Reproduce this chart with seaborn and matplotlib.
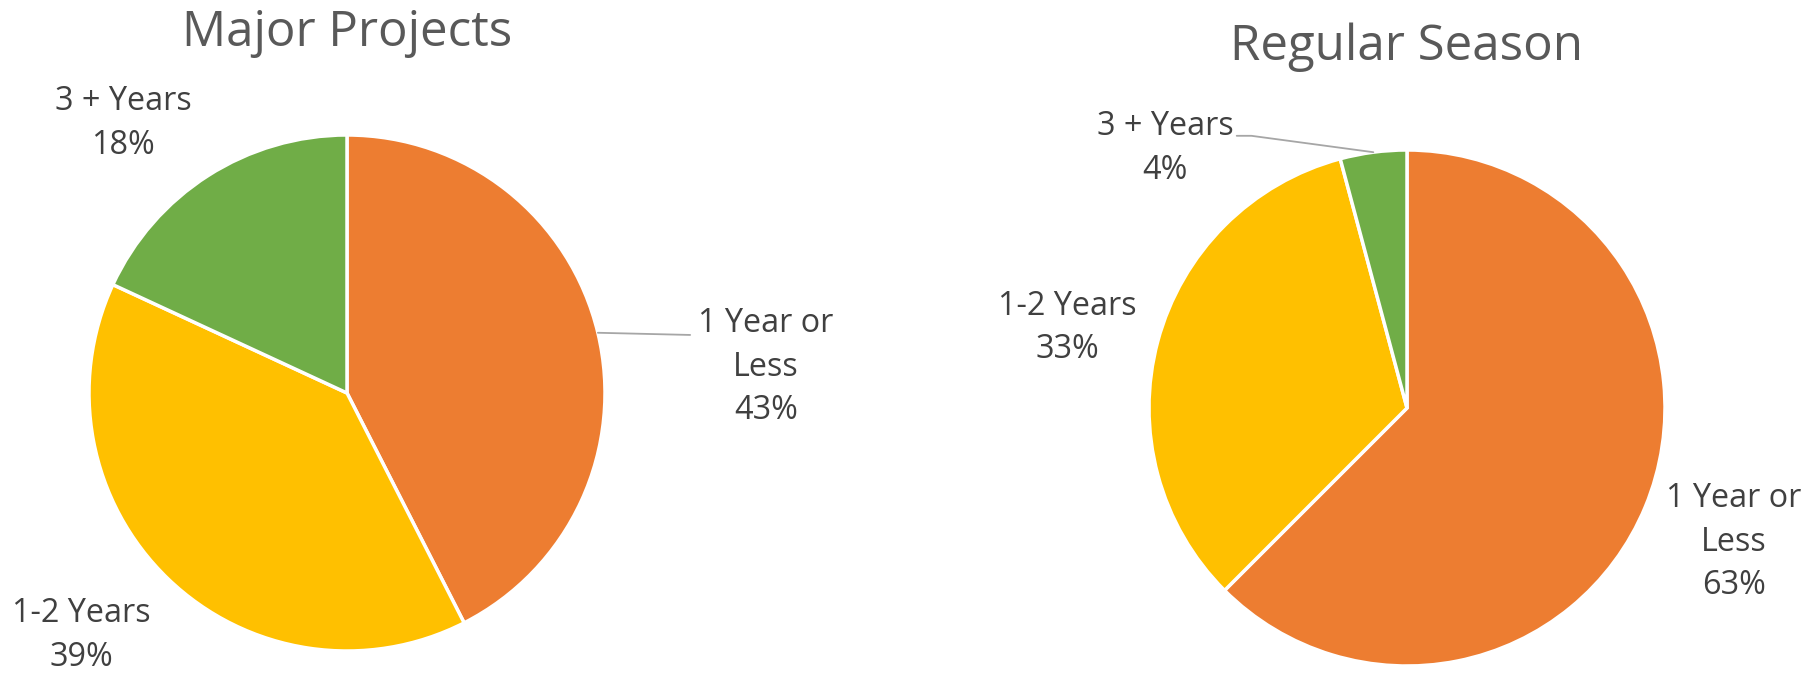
import numpy as np
import seaborn as sns
import matplotlib.pyplot as plt

# data (wedge sizes, labels as printed)
labels = ['1 Year or\nLess', '1-2 Years', '3 + Years']
major = [42.5, 39.4, 18.1]
major_pct = [43, 39, 18]
regular = [15, 8, 1]
regular_pct = [63, 33, 4]
titles = ['Major Projects', 'Regular Season']

sns.set_theme(style='white')
plt.rcParams['font.family'] = ['Open Sans', 'DejaVu Sans']
colors = sns.color_palette(['#ED7D31', '#FFC000', '#70AD47'])

W, H = 1809, 673
fig = plt.figure(figsize=(W / 100, H / 100), dpi=100)


def make_ax(cx, cy, r):
    return fig.add_axes([(cx - r) / W, (H - cy - r) / H, 2 * r / W, 2 * r / H])


# label centres (in pie-radius units) per wedge, Excel style
label_pos = [
    [(1.624, 0.10), (-1.03, -0.94), (-0.868, 1.045)],
    [(1.267, -0.52), (-1.318, 0.31), (-0.938, 1.005)],
]
leader = [0, 2]  # which wedge gets a leader line

axes = [make_ax(347, 393, 258), make_ax(1407, 408, 258)]
title_y = [33, 47]

for i, (ax, vals, pcts) in enumerate(zip(axes, [major, regular], [major_pct, regular_pct])):
    wedges, _ = ax.pie(vals, colors=colors, startangle=90, counterclock=False,
                       radius=1, wedgeprops=dict(edgecolor='white', linewidth=2.5))
    ax.set_xlim(-1, 1)
    ax.set_ylim(-1, 1)
    ax.axis('off')
    for j, w in enumerate(wedges):
        lx, ly = label_pos[i][j]
        ax.text(lx, ly, f'{labels[j]}\n{pcts[j]}%', ha='center', va='center',
                fontsize=23.3, color='#404040', linespacing=1.42, clip_on=False)
        if j == leader[i]:
            mid = np.deg2rad((w.theta1 + w.theta2) / 2)
            px, py = np.cos(mid), np.sin(mid)
            if i == 0:
                ex, ey = lx - 0.294, ly + 0.125
                ax.plot([px, ex], [py, ey], color='#A6A6A6', lw=1.3, clip_on=False)
            else:
                ex, ey = lx + 0.335, ly + 0.05
                ax.plot([px, ex, ex - 0.057], [py, ey, ey], color='#A6A6A6',
                        lw=1.3, clip_on=False)
    cx = (ax.get_position().x0 + ax.get_position().x1) / 2
    fig.text(cx, 1 - title_y[i] / H, titles[i], ha='center', va='center',
             fontsize=35.5, color='#595959')

fig.savefig('out.png', dpi=100)
